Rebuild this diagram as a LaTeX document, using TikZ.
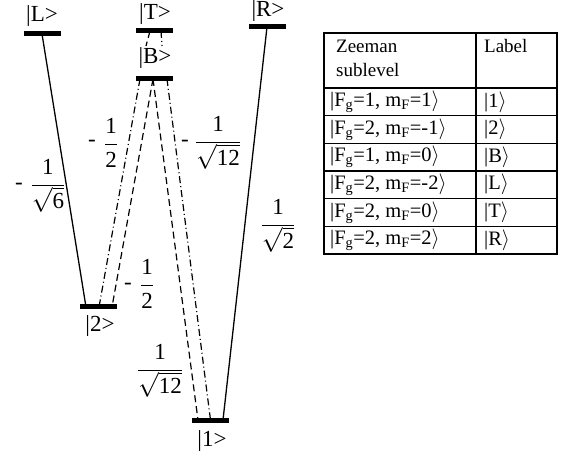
\documentclass[tikz,border=0pt]{standalone}
\usepackage{fontspec}
\setmainfont{Liberation Serif}
\begin{document}
\begin{tikzpicture}[x=1pt,y=-1pt,
  lvl/.style={fill=black,minimum width=37pt,minimum height=5pt,inner sep=0pt,outer sep=0pt},
  ket/.style={font=\fontsize{23}{26}\selectfont,inner sep=0pt},
  frac/.style={font=\fontsize{23}{27}\selectfont,inner sep=0pt},
  minus/.style={font=\fontsize{23}{27}\selectfont,inner sep=0pt},
  solidline/.style={line width=1.3pt},
  dashline/.style={line width=1.2pt,dash pattern=on 7pt off 4pt},
  dotline/.style={line width=1.2pt,dash pattern=on 7pt off 3pt on 1pt off 3pt},
  cell/.style={font=\fontsize{19}{23}\selectfont,anchor=west,inner sep=0pt},
  rowcell/.style={font=\fontsize{20.5}{24}\selectfont,anchor=west,inner sep=0pt},
  rule/.style={line width=1.1pt}]
\useasboundingbox (0,0) rectangle (568,457);
% connectors first
\coordinate (Lc) at (42,34);
\coordinate (Tc) at (154.5,31);
\coordinate (Bc) at (154.5,79);
\coordinate (Rc) at (267,27);
\coordinate (twoc) at (98,307);
\coordinate (onec) at (210.5,420);
\coordinate (tb1) at (146,46);
\coordinate (tb2) at (162,46);
\draw[solidline] (Lc) -- ([xshift=-12pt]twoc);
\draw[solidline] (Rc) -- ([xshift=12.5pt]onec);
\draw[dotline] ([xshift=-14.5pt]Bc) -- ([xshift=1pt]twoc);
\draw[dashline] ([xshift=-1.5pt]Bc) -- ([xshift=14pt]twoc);
\draw[dashline] ([xshift=-1.5pt]Bc) -- ([xshift=-12.5pt]onec);
\draw[dotline] ([xshift=12.5pt]Bc) -- (onec);
\draw[dashline] ([xshift=-4.5pt]Tc) -- (tb1);
\draw[dotline] ([xshift=6.5pt]Tc) -- (tb2);
% level bars
\node[lvl] (L) at (Lc) {};
\node[lvl] (T) at (Tc) {};
\node[lvl] (B) at (Bc) {};
\node[lvl] (R) at (Rc) {};
\node[lvl] (two) at (twoc) {};
\node[lvl] (one) at (onec) {};
% level labels
\node[ket] (Llab) at (42,16) {|L>};
\node[ket] (Tlab) at (155,14) {|T>};
\node[ket] (Blab) at (155,58) {|B>};
\node[ket] (Rlab) at (268,11) {|R>};
\node[ket] (twolab) at (100,326) {|2>};
\node[ket] (onelab) at (212,441) {|1>};
% coefficients
\node[minus] (m1) at (19,186) {-};
\node[frac] (f1) at (48,186) {$\displaystyle\frac{\mbox{1}}{\sqrt{\mbox{6}}}$};
\node[minus] (m2) at (92,143) {-};
\node[frac] (f2) at (111,143) {$\displaystyle\frac{\mbox{1}}{\mbox{2}}$};
\node[minus] (m3) at (185,143) {-};
\node[frac] (f3) at (218,143) {$\displaystyle\frac{\mbox{1}}{\sqrt{\mbox{12}}}$};
\node[minus] (m4) at (128,286) {-};
\node[frac] (f4) at (147,284) {$\displaystyle\frac{\mbox{1}}{\mbox{2}}$};
\node[frac] (f5) at (278,226) {$\displaystyle\frac{\mbox{1}}{\sqrt{\mbox{2}}}$};
\node[frac] (f6) at (160,371) {$\displaystyle\frac{\mbox{1}}{\sqrt{\mbox{12}}}$};
% table
\draw[rule] (324,33) rectangle (557,254);
\draw[rule] (476,33) -- (476,254);
\foreach \yy in {88,115.7,143.3,171,198.7,226.3}
  \draw[rule] (324,\yy) -- (557,\yy);
\node[cell] (h1) at (336,46) {Zeeman};
\node[cell] (h2) at (336,70) {sublevel};
\node[cell] (h3) at (484,46) {Label};
\node[rowcell] (r1) at (330,102) {|F\textsubscript{g}=1, m\textsubscript{F}=1$\rangle$};
\node[rowcell] (r2) at (330,129.5) {|F\textsubscript{g}=2, m\textsubscript{F}=-1$\rangle$};
\node[rowcell] (r3) at (330,157.2) {|F\textsubscript{g}=1, m\textsubscript{F}=0$\rangle$};
\node[rowcell] (r4) at (330,184.8) {|F\textsubscript{g}=2, m\textsubscript{F}=-2$\rangle$};
\node[rowcell] (r5) at (330,212.5) {|F\textsubscript{g}=2, m\textsubscript{F}=0$\rangle$};
\node[rowcell] (r6) at (330,240.2) {|F\textsubscript{g}=2, m\textsubscript{F}=2$\rangle$};
\node[rowcell] (s1) at (484,102) {|1$\rangle$};
\node[rowcell] (s2) at (484,129.5) {|2$\rangle$};
\node[rowcell] (s3) at (484,157.2) {|B$\rangle$};
\node[rowcell] (s4) at (484,184.8) {|L$\rangle$};
\node[rowcell] (s5) at (484,212.5) {|T$\rangle$};
\node[rowcell] (s6) at (484,240.2) {|R$\rangle$};
\end{tikzpicture}
\end{document}
